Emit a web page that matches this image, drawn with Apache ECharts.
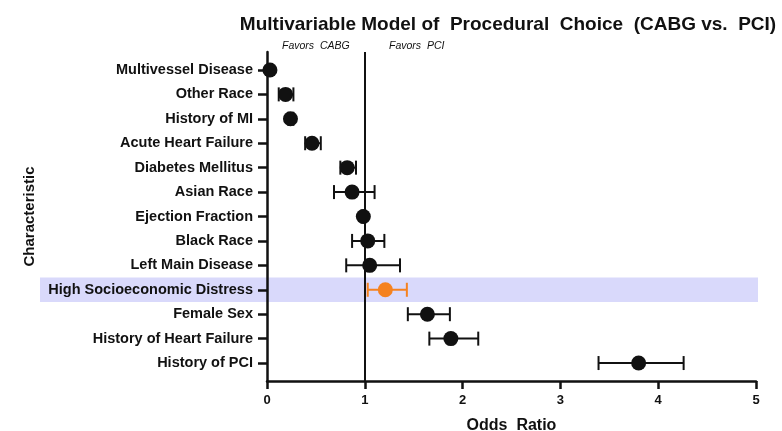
<!DOCTYPE html>
<html>
<head>
<meta charset="utf-8">
<script src="https://cdn.jsdelivr.net/npm/echarts@6/dist/echarts.min.js"></script>
<style>html,body{margin:0;padding:0;background:#fff}#c{width:782px;height:431px}</style>
</head>
<body>
<div id="c"></div>
<script>
const categories = ["Multivessel Disease","Other Race","History of MI","Acute Heart Failure","Diabetes Mellitus","Asian Race","Ejection Fraction","Black Race","Left Main Disease","High Socioeconomic Distress","Female Sex","History of Heart Failure","History of PCI"];
const oddsRatio = [0.03, 0.19, 0.24, 0.46, 0.82, 0.87, 0.985, 1.03, 1.05, 1.21, 1.64, 1.88, 3.80];
const ciLow =     [0.02, 0.12, 0.22, 0.39, 0.75, 0.685, 0.97, 0.87, 0.81, 1.03, 1.44, 1.66, 3.39];
const ciHigh =    [0.05, 0.27, 0.27, 0.55, 0.91, 1.10, 1.00, 1.20, 1.36, 1.43, 1.87, 2.16, 4.26];
const highlightIndex = 9;
const xTicks = [0, 1, 2, 3, 4, 5];

const BLACK = '#111';
const ORANGE = '#f5821f';
const colorOf = i => i === highlightIndex ? ORANGE : BLACK;
const idx = categories.map((_, i) => i);
const FONT = 'Liberation Sans, Arial, sans-serif';

const chart = echarts.init(document.getElementById('c'));
const favorTexts = [
  {type: 'text', left: 282, top: 41, style: {text: 'Favors  CABG', fontFamily: FONT, fontStyle: 'italic', fontSize: 10.5, fill: BLACK}},
  {type: 'text', left: 389, top: 41, style: {text: 'Favors  PCI', fontFamily: FONT, fontStyle: 'italic', fontSize: 10.5, fill: BLACK}}
];
const option = {
  animation: false,
  title: {
    text: 'Multivariable Model of  Procedural  Choice  (CABG vs.  PCI)',
    left: 503, top: 10, textAlign: 'center',
    textStyle: {fontFamily: FONT, fontWeight: 'bold', fontSize: 19, color: BLACK}
  },
  grid: {left: 267, right: 26, top: 52, bottom: 50, outerBoundsMode: 'none', containLabel: false},
  xAxis: {
    type: 'value', min: 0, max: 5, interval: 1,
    name: 'Odds  Ratio', nameLocation: 'middle', nameGap: 37,
    nameTextStyle: {fontFamily: FONT, fontWeight: 'bold', fontSize: 16, color: BLACK},
    axisLine: {show: true, onZero: false, lineStyle: {color: BLACK, width: 2.5}},
    axisTick: {show: true, length: 8, lineStyle: {color: BLACK, width: 2.5}},
    axisLabel: {fontFamily: FONT, fontWeight: 'bold', fontSize: 13, color: BLACK, margin: 13,
      customValues: xTicks},
    splitLine: {show: false}
  },
  yAxis: {
    type: 'value', inverse: true, min: -0.735, max: 12.735,
    name: 'Characteristic', nameLocation: 'middle', nameGap: 225, nameRotate: 90,
    nameTextStyle: {fontFamily: FONT, fontWeight: 'bold', fontSize: 15, color: BLACK},
    axisLine: {show: true, onZero: false, lineStyle: {color: BLACK, width: 2.5}},
    axisTick: {show: true, length: 9, lineStyle: {color: BLACK, width: 2.5}, customValues: idx},
    axisLabel: {fontFamily: FONT, fontWeight: 'bold', fontSize: 14.5, color: BLACK, margin: 14,
      customValues: idx, formatter: v => categories[Math.round(v)] || ''},
    splitLine: {show: false}
  },
  series: [
    {
      type: 'custom',
      z: 3,
      data: idx.map(i => [ciLow[i], ciHigh[i], i]),
      renderItem: (params, api) => {
        const lo = api.coord([api.value(0), api.value(2)]);
        const hi = api.coord([api.value(1), api.value(2)]);
        const c = colorOf(params.dataIndex);
        const h = 7;
        const st = {stroke: c, lineWidth: 2};
        return {type: 'group', children: [
          {type: 'line', shape: {x1: lo[0], y1: lo[1], x2: hi[0], y2: hi[1]}, style: st},
          {type: 'line', shape: {x1: lo[0], y1: lo[1]-h, x2: lo[0], y2: lo[1]+h}, style: st},
          {type: 'line', shape: {x1: hi[0], y1: hi[1]-h, x2: hi[0], y2: hi[1]+h}, style: st}
        ]};
      }
    },
    {
      type: 'scatter', z: 4,
      symbol: 'circle', symbolSize: 15,
      data: idx.map(i => ({value: [oddsRatio[i], i], itemStyle: {color: colorOf(i), opacity: 1}})),
      markLine: {
        silent: true, symbol: 'none', label: {show: false},
        lineStyle: {color: BLACK, width: 2, type: 'solid'},
        data: [{xAxis: 1}]
      }
    }
  ],
  graphic: favorTexts
};
chart.setOption(option);

// highlight band behind the highlighted row, spanning the label area too
const yTop = chart.convertToPixel({yAxisIndex: 0}, highlightIndex - 0.5);
const yBot = chart.convertToPixel({yAxisIndex: 0}, highlightIndex + 0.5);
const xEnd = chart.convertToPixel({xAxisIndex: 0}, 5) + 2;
chart.setOption({graphic: favorTexts.concat([
  {type: 'rect', z: -10, silent: true,
   shape: {x: 40, y: yTop, width: xEnd - 40, height: yBot - yTop},
   style: {fill: '#d9d9fb'}}
])}, {replaceMerge: ['graphic']});
</script>
</body>
</html>
